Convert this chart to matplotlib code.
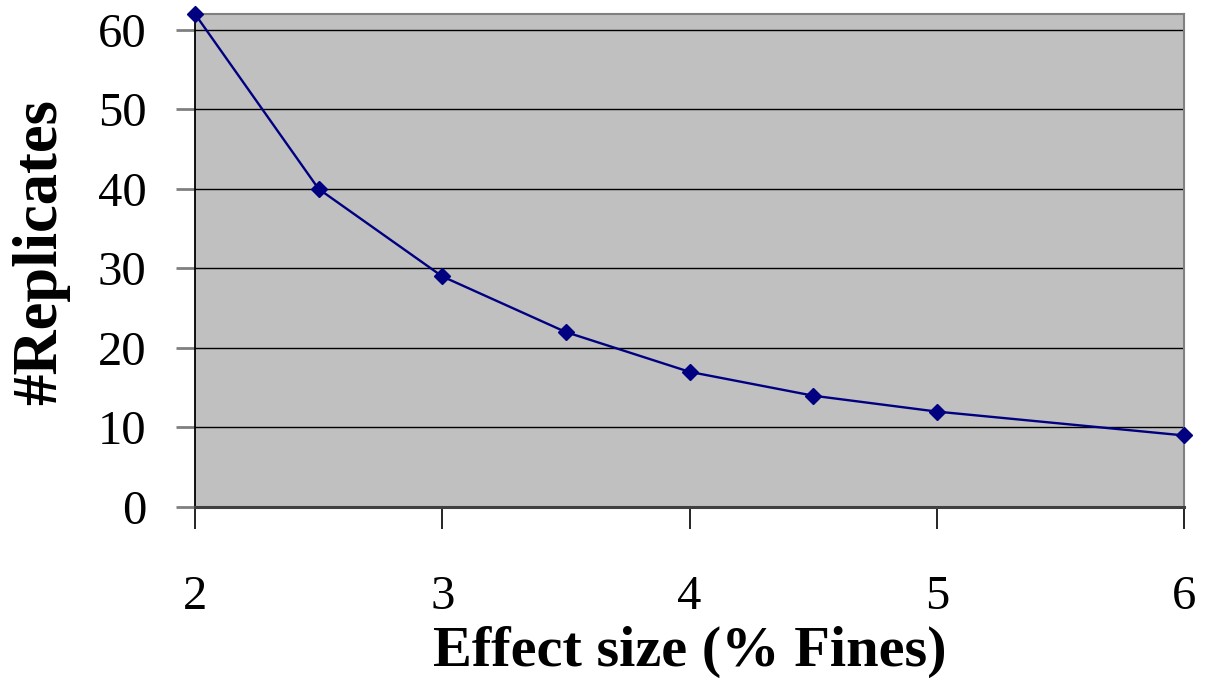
import matplotlib
matplotlib.use("Agg")
import matplotlib.pyplot as plt

effect_size = [2, 2.5, 3, 3.5, 4, 4.5, 5, 6]
replicates = [62, 40, 29, 22, 17, 14, 12, 9]
x_ticks = [2, 3, 4, 5, 6]
y_ticks = [0, 10, 20, 30, 40, 50, 60]

plt.rcParams['font.family'] = ['Liberation Serif', 'DejaVu Serif']

W, H = 1207, 681
fig = plt.figure(figsize=(W / 100, H / 100), dpi=100)
ax = fig.add_axes([195 / W, 1 - 507 / H, (1184 - 195) / W, (507 - 14) / H])
ax.set_facecolor('#C0C0C0')

ax.plot(effect_size, replicates, color='#000080', lw=1.7, marker='D',
        markersize=8, markerfacecolor='#000080', markeredgecolor='#000080',
        clip_on=False, zorder=5)

ax.set_xlim(2, 6)
ax.set_ylim(0, 62)
ax.set_xticks(x_ticks)
ax.set_yticks(y_ticks)
ax.set_xticklabels([str(v) for v in x_ticks])
ax.set_yticklabels([str(v) for v in y_ticks])

for v in y_ticks[1:]:
    ax.axhline(v, color='black', lw=1.0, zorder=1)

ax.spines['top'].set_color('#808080')
ax.spines['right'].set_color('#808080')
ax.spines['top'].set_linewidth(1.5)
ax.spines['right'].set_linewidth(1.5)
ax.spines['left'].set_color('black')
ax.spines['left'].set_linewidth(1.3)
ax.spines['bottom'].set_color('#404040')
ax.spines['bottom'].set_linewidth(2.2)

ax.tick_params(axis='y', direction='out', length=14, width=2, color='#808080',
               labelsize=35, pad=21)
ax.tick_params(axis='x', direction='out', length=16, width=1.2, color='black',
               labelsize=35, pad=33)

ax.set_xlabel('Effect size (% Fines)', fontsize=42, fontweight='bold')
ax.set_ylabel('#Replicates', fontsize=45, fontweight='bold')
ax.xaxis.set_label_coords((690 - 195) / 989, (507 - 626) / 493)
ax.yaxis.set_label_coords((70 - 195) / 989, (507 - 252) / 493)

fig.savefig('out.png', dpi=100)
